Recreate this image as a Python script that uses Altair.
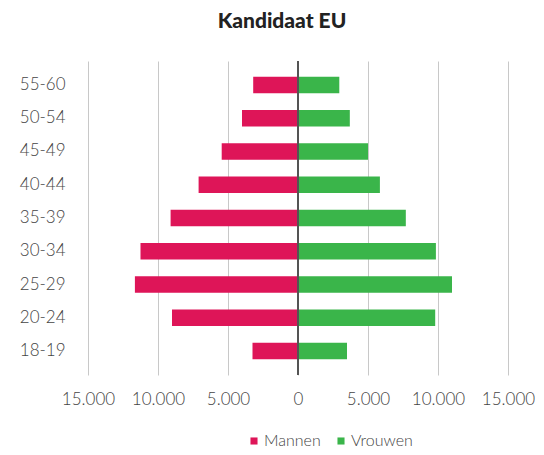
import altair as alt
import pandas as pd

ages = ["55-60", "50-54", "45-49", "40-44", "35-39", "30-34", "25-29", "20-24", "18-19"]
mannen = [3200, 4000, 5450, 7100, 9100, 11250, 11650, 9000, 3250]
vrouwen = [2950, 3700, 5000, 5850, 7700, 9850, 11000, 9800, 3500]
series = ["Mannen", "Vrouwen"]
colors = ["#DE1558", "#3AB54A"]
ticks = [-15000, -10000, -5000, 0, 5000, 10000, 15000]

rows = []
for a, m, v in zip(ages, mannen, vrouwen):
    rows.append({"age": a, "sex": "Mannen", "value": -m})
    rows.append({"age": a, "sex": "Vrouwen", "value": v})
df = pd.DataFrame(rows)

FONT = "Lato"

bars = alt.Chart(df).mark_bar().encode(
    x=alt.X("value:Q", stack=None,
            scale=alt.Scale(domain=[-15000, 15000], nice=False),
            axis=alt.Axis(values=ticks, title=None, domain=False, ticks=False,
                          grid=True, gridColor="#c8c8c8", gridWidth=1,
                          labelExpr="replace(format(abs(datum.value), ','), ',', '.')",
                          labelOverlap=False, labelFlush=False,
                          labelPadding=16, labelFontSize=17, labelFont=FONT,
                          labelFontWeight=300, labelColor="#444444")),
    y=alt.Y("age:N", sort=ages,
            scale=alt.Scale(paddingInner=0.5, paddingOuter=0.47),
            axis=alt.Axis(title=None, domain=False, ticks=False, grid=False,
                          labelPadding=23, labelFontSize=17, labelFont=FONT,
                          labelFontWeight=300, labelColor="#444444")),
    color=alt.Color("sex:N", scale=alt.Scale(domain=series, range=colors),
                    legend=alt.Legend(title=None, orient="none", direction="horizontal",
                                      legendX=158, legendY=372,
                                      symbolType="square", symbolSize=50,
                                      labelFontSize=16, labelFont=FONT,
                                      labelFontWeight=300, labelColor="#444444",
                                      columnPadding=12, labelOffset=2)),
)

zero = alt.Chart(df).mark_rule(color="#555555", strokeWidth=1).encode(x=alt.datum(0))

chart = alt.layer(bars, zero).properties(
    width=420, height=314,
    title=alt.TitleParams("Kandidaat EU", fontSize=21, fontWeight=900, font=FONT,
                          color="#222222", offset=29, dx=-16, anchor="middle"),
    autosize=alt.AutoSizeParams(type="pad"),
    padding={"left": 11, "top": 2, "right": 0, "bottom": 0},
).configure_view(stroke=None)

chart.save("out.html", embed_options={"renderer": "svg", "actions": False})
